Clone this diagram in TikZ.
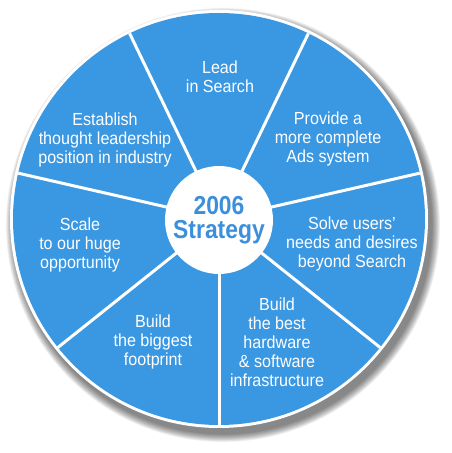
\documentclass[tikz,border=0pt]{standalone}
\usepackage{fontspec}
\usetikzlibrary{calc}
\setmainfont{Liberation Sans}
\newfontfamily\segfont[FakeStretch=0.92]{Liberation Sans}
\newfontfamily\corefont[FakeStretch=0.88]{Liberation Sans}
\definecolor{segblue}{HTML}{3A97E2}
\definecolor{coreblue}{HTML}{3B8FDB}
\begin{document}
\begin{tikzpicture}[x=1pt,y=1pt,
  seglabel/.style={text=white, align=center, font=\segfont\fontsize{17.5}{19}\selectfont, inner sep=0pt},
  divider/.style={draw=white, line width=3pt},
  corelabel/.style={circle, fill=white, minimum size=108pt, inner sep=0pt, text=coreblue, align=center, font=\corefont\fontsize{26}{24}\selectfont\bfseries}]
\useasboundingbox (0,0) rectangle (452,453);
\coordinate (c) at (219,234);
% drop shadow
\foreach \i in {0,...,11} {
  \fill[black, opacity=0.05] (223,228) circle ({217-0.7*\i});
}
% white rim and blue disc
\fill[white] (c) circle (209);
\fill[segblue] (c) circle (206);
% dividers
\foreach \k in {0,...,6} {
  \coordinate (rim\k) at ($(c)+({270+360/7*\k}:206)$);
  \draw[divider] (c) -- (rim\k);
}
% core
\node[corelabel] (core) at (219,233) {2006\\Strategy};
% segment labels
\node[seglabel] (lead) at (220,376) {Lead\\in Search};
\node[seglabel] (ads) at (328,314) {Provide a\\more complete\\Ads system};
\node[seglabel] (thought) at (105,313) {Establish\\thought leadership\\position in industry};
\node[seglabel] (scale) at (80,208) {Scale\\to our huge\\opportunity};
\node[seglabel] (solve) at (352,209) {Solve users’\\needs and desires\\beyond Search};
\node[seglabel] (footprint) at (153,111) {Build\\the biggest\\footprint};
\node[seglabel] (infra) at (277,111) {Build\\the best\\hardware\\\&~software\\infrastructure};
\end{tikzpicture}
\end{document}
